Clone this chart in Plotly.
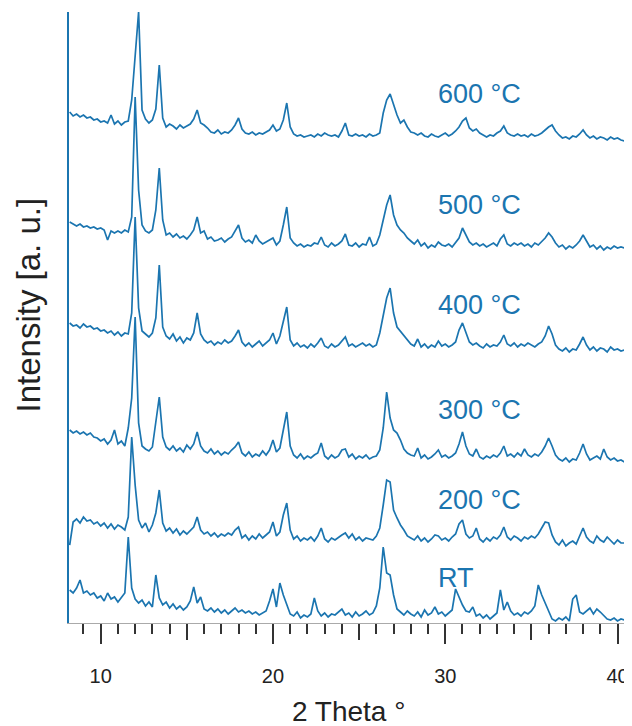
import plotly.graph_objects as go
import numpy as np

# ---- data ----
two_theta_start = 8.2
two_theta_step = 0.2
n_points = 162
two_theta = np.round(two_theta_start + two_theta_step * np.arange(n_points), 1)

labels = ["600 °C", "500 °C", "400 °C", "300 °C", "200 °C", "RT"]
offsets = [478, 368, 265, 155, 73, 0]

i_600 = [
    33, 29, 31, 28, 30, 27, 28, 25, 26, 23,
    24, 22, 30, 21, 24, 20, 23, 24, 45, 90,
    133, 35, 26, 22, 25, 36, 80, 27, 18, 21,
    19, 16, 20, 17, 19, 21, 26, 35, 22, 20,
    17, 13, 12, 15, 11, 13, 12, 15, 20, 27,
    16, 12, 11, 13, 10, 12, 11, 13, 15, 20,
    14, 16, 25, 42, 18, 11, 9, 10, 8, 9,
    10, 8, 11, 9, 12, 10, 9, 10, 8, 14,
    22, 10, 9, 11, 9, 10, 8, 11, 9, 10,
    12, 32, 45, 51, 40, 30, 22, 25, 18, 13,
    12, 10, 12, 9, 8, 11, 9, 8, 10, 12,
    9, 11, 14, 18, 24, 27, 17, 14, 16, 12,
    10, 8, 10, 9, 12, 14, 19, 12, 10, 9,
    11, 9, 10, 8, 11, 9, 10, 12, 15, 18,
    20, 14, 10, 7, 8, 6, 9, 8, 11, 15,
    10, 7, 9, 6, 8, 7, 5, 8, 6, 7,
    5, 4,
]

i_500 = [
    33, 31, 29, 31, 28, 29, 27, 28, 26, 27,
    25, 15, 24, 22, 24, 22, 25, 23, 38, 158,
    65, 30, 24, 22, 25, 45, 87, 35, 20, 22,
    18, 21, 17, 19, 16, 20, 25, 38, 22, 24,
    16, 18, 14, 15, 17, 13, 16, 18, 24, 30,
    17, 13, 15, 12, 20, 14, 11, 13, 15, 17,
    10, 14, 30, 48, 17, 12, 9, 11, 8, 10,
    9, 12, 11, 18, 10, 8, 12, 9, 11, 14,
    21, 10, 9, 12, 8, 11, 10, 18, 9, 11,
    20, 35, 50, 60, 40, 30, 25, 22, 17, 14,
    11, 15, 9, 12, 7, 10, 8, 13, 10, 9,
    11, 8, 12, 17, 27, 20, 13, 10, 12, 9,
    11, 8, 10, 12, 9, 16, 20, 11, 9, 12,
    10, 12, 9, 11, 8, 12, 10, 13, 17, 22,
    18, 12, 8, 10, 6, 9, 7, 10, 14, 20,
    14, 8, 10, 6, 9, 5, 8, 6, 9, 7,
    8, 7,
]

i_400 = [
    35, 32, 33, 30, 34, 31, 32, 29, 30, 27,
    28, 25, 27, 23, 26, 22, 25, 24, 45, 141,
    50, 27, 24, 21, 25, 40, 93, 31, 22, 19,
    24, 17, 21, 15, 20, 18, 25, 45, 24, 18,
    15, 17, 13, 16, 14, 18, 15, 17, 22, 28,
    16, 12, 15, 11, 14, 17, 12, 15, 18, 25,
    14, 22, 38, 51, 18, 12, 15, 11, 13, 10,
    14, 11, 15, 20, 12, 10, 14, 11, 13, 17,
    21, 12, 14, 11, 13, 15, 12, 14, 11, 13,
    25, 42, 60, 70, 45, 31, 27, 22, 18, 14,
    12, 19, 11, 14, 10, 13, 11, 17, 12, 14,
    11, 13, 16, 28, 35, 25, 16, 13, 15, 12,
    10, 14, 11, 13, 12, 16, 23, 14, 12, 15,
    11, 14, 12, 15, 13, 11, 14, 16, 22, 32,
    24, 13, 9, 7, 10, 6, 9, 8, 14, 21,
    13, 8, 11, 7, 10, 9, 6, 11, 8, 9,
    7, 8,
]

i_300 = [
    38, 35, 37, 34, 36, 33, 35, 31, 30, 27,
    29, 24, 28, 38, 24, 27, 22, 40, 70, 151,
    45, 22, 19, 17, 21, 45, 71, 31, 21, 18,
    22, 17, 20, 16, 23, 19, 24, 36, 22, 17,
    15, 19, 14, 17, 13, 16, 14, 18, 21, 26,
    15, 12, 16, 11, 14, 12, 17, 13, 18, 28,
    16, 20, 40, 56, 22, 13, 10, 14, 9, 12,
    10, 13, 15, 25, 12, 9, 13, 10, 12, 18,
    19, 11, 14, 9, 12, 10, 13, 9, 11, 12,
    18, 40, 76, 50, 38, 35, 28, 19, 15, 13,
    12, 20, 10, 13, 9, 11, 14, 18, 11, 13,
    10, 12, 15, 24, 36, 22, 14, 12, 19, 11,
    9, 12, 10, 13, 11, 15, 22, 12, 14, 11,
    15, 12, 19, 13, 11, 14, 12, 16, 22, 30,
    22, 13, 9, 7, 10, 6, 9, 8, 15, 24,
    14, 8, 10, 12, 9, 19, 11, 8, 10, 7,
    8, 6,
]

i_200 = [
    5, 28, 31, 27, 33, 29, 30, 26, 28, 24,
    27, 22, 26, 21, 25, 23, 20, 33, 113, 65,
    30, 22, 27, 18, 25, 37, 60, 27, 19, 22,
    17, 21, 15, 19, 16, 20, 23, 33, 20, 16,
    18, 14, 17, 13, 16, 14, 17, 15, 20, 23,
    12, 15, 10, 14, 11, 16, 12, 15, 18, 28,
    14, 18, 35, 47, 20, 11, 14, 9, 12, 10,
    13, 9, 14, 22, 11, 8, 12, 10, 13, 15,
    17, 12, 16, 10, 13, 9, 12, 11, 10, 14,
    22, 45, 70, 68, 40, 32, 25, 20, 14, 12,
    10, 14, 9, 12, 8, 11, 15, 14, 10, 12,
    9, 13, 16, 26, 30, 16, 12, 14, 22, 11,
    8, 12, 9, 13, 11, 15, 23, 13, 10, 14,
    12, 9, 13, 11, 14, 12, 16, 22, 28, 27,
    15, 8, 5, 10, 4, 7, 9, 6, 14, 22,
    13, 9, 7, 14, 10, 8, 13, 9, 6, 10,
    7, 7,
]

i_rt = [
    33, 30, 35, 43, 30, 32, 28, 30, 25, 27,
    22, 30, 24, 26, 21, 25, 30, 86, 35, 24,
    20, 23, 17, 21, 16, 48, 25, 18, 21, 15,
    19, 14, 17, 13, 16, 22, 36, 20, 26, 14,
    12, 15, 11, 14, 10, 13, 9, 12, 15, 11,
    13, 10, 12, 9, 11, 8, 10, 12, 22, 34,
    16, 40, 28, 18, 9, 7, 11, 5, 8, 6,
    9, 25, 12, 7, 10, 6, 9, 8, 11, 14,
    8, 10, 6, 11, 7, 9, 12, 8, 10, 17,
    35, 76, 50, 48, 28, 14, 11, 8, 12, 9,
    7, 11, 6, 13, 8, 10, 16, 9, 11, 7,
    10, 13, 34, 25, 18, 12, 11, 16, 7, 9,
    5, 8, 4, 7, 10, 33, 13, 21, 12, 8,
    10, 7, 11, 9, 12, 17, 38, 28, 20, 11,
    4, 2, 5, 3, 6, 2, 24, 28, 11, 9,
    12, 15, 9, 14, 11, 8, 4, 3, 5, 2,
    4, 3,
]

series = [i_600, i_500, i_400, i_300, i_200, i_rt]

x_major = [10, 20, 30, 40]
x_mid = [15, 25, 35]

# ---- styling ----
BLUE = "#1b75b0"
FONT = "Liberation Sans, Arial, sans-serif"
label_x = 29.46
label_y = [529, 418, 318, 213, 123, 45]

fig = go.Figure()
for vals, off in zip(series, offsets):
    fig.add_trace(go.Scatter(
        x=two_theta, y=np.array(vals) + off, mode="lines",
        line=dict(color=BLUE, width=1.7), showlegend=False, hoverinfo="skip"))

# carrier trace for the medium-tick overlay axis
fig.add_trace(go.Scatter(x=[None], y=[None], xaxis="x2", showlegend=False,
                         hoverinfo="skip"))

for lab, ly in zip(labels, label_y):
    fig.add_annotation(x=label_x, y=ly, text=lab, showarrow=False,
                       xanchor="left", yanchor="middle",
                       font=dict(family=FONT, size=27, color=BLUE))

fig.add_annotation(xref="paper", yref="paper", x=0.5, y=0, yshift=-88,
                   text="2 Theta °", showarrow=False, xanchor="center",
                   yanchor="middle", font=dict(family=FONT, size=28, color="#222"))
fig.add_annotation(xref="paper", yref="paper", x=0, y=0.5, xshift=-41, yshift=12,
                   text="Intensity [a. u.]", showarrow=False, textangle=-90,
                   xanchor="center", yanchor="middle",
                   font=dict(family=FONT, size=33, color="#222"))

xr = [8.16, 40.55]
fig.update_layout(
    width=624, height=718,
    margin=dict(l=61, r=5, t=4, b=103),
    paper_bgcolor="white", plot_bgcolor="white",
    font=dict(family=FONT, color="#222"),
    xaxis=dict(range=xr, tickvals=x_major, ticks="outside", ticklen=20,
               tickwidth=2, tickcolor="#333", showline=True, linecolor="#aaa",
               linewidth=1.3, showgrid=False, zeroline=False,
               tickfont=dict(size=20, color="#222"), ticklabelstandoff=15,
               minor=dict(dtick=1, tick0=0, ticks="outside", ticklen=10,
                          tickwidth=2, tickcolor="#333", showgrid=False)),
    xaxis2=dict(range=xr, overlaying="x", side="bottom", anchor="y",
                tickvals=x_mid, ticks="outside", ticklen=16, tickwidth=2,
                tickcolor="#333", showticklabels=False, showline=False,
                showgrid=False, zeroline=False),
    yaxis=dict(range=[0, 611], showticklabels=False, ticks="", showgrid=False,
               zeroline=False, showline=True, linecolor=BLUE, linewidth=2),
)

fig.write_html("out.html")
